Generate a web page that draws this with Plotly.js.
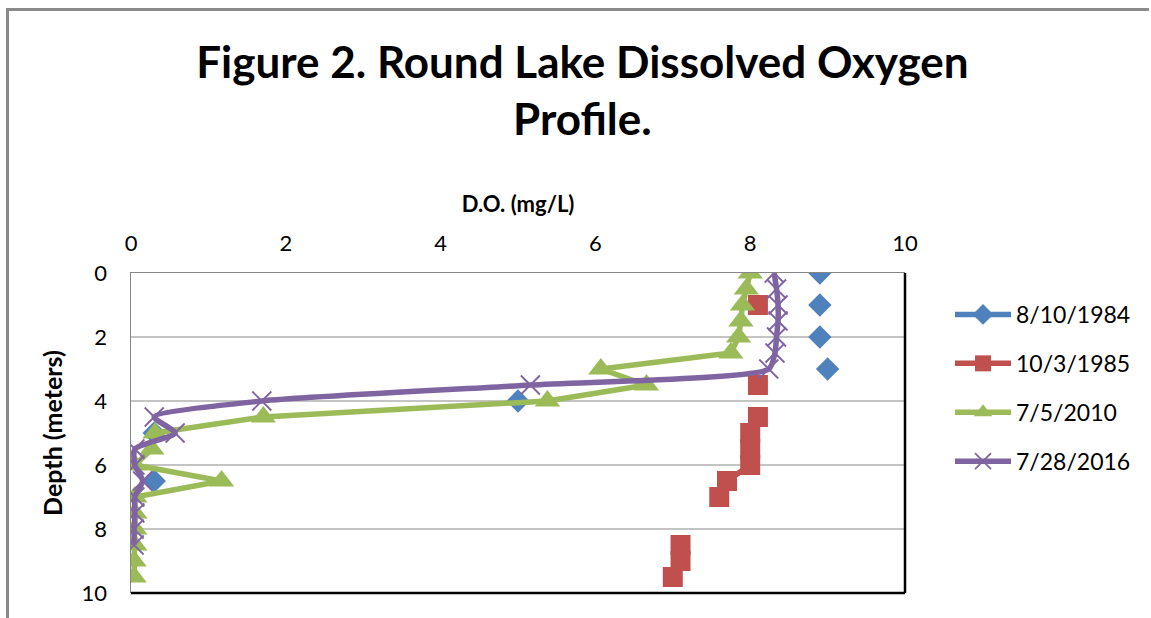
<!DOCTYPE html>
<html>
<head>
<meta charset="utf-8">
<script src="https://cdn.plot.ly/plotly-3.0.1.min.js"></script>
<style>
  html, body { margin: 0; padding: 0; background: #fff; overflow: hidden; }
  #wrap { position: relative; width: 1151px; height: 618px; overflow: hidden; }
  #chart { position: absolute; left: 0; top: 0; width: 1151px; height: 618px; }
  #frameTop { position: absolute; left: 6px; top: 8px; width: 1143px; height: 3px; background: #8a8a8a; pointer-events: none; }
  #frameLeft { position: absolute; left: 6px; top: 8px; width: 3px; height: 610px; background: #8a8a8a; pointer-events: none; }
</style>
</head>
<body>
<div id="wrap">
  <div id="chart"></div>
  <div id="frameTop"></div>
  <div id="frameLeft"></div>
</div>
<script>
// Depth (meters)
const depths = [0, 0.5, 1, 1.5, 2, 2.5, 3, 3.5, 4, 4.5, 5, 5.5, 6, 6.5, 7, 7.5, 8, 8.5, 9, 9.5];
// D.O. (mg/L) per series, null where not measured
const do1984 = [8.9, null, 8.9, null, 8.9, null, 9.0, null, 5.0, null, 0.3, null, null, 0.3, null, null, null, null, null, null];
const do1985 = [null, null, 8.1, null, null, null, null, 8.1, null, 8.1, 8.0, 8.0, 8.0, 7.7, 7.6, null, null, 7.1, 7.1, 7.0];
const do2010 = [8.0, 7.95, 7.9, 7.88, 7.85, 7.75, 6.07, 6.66, 5.38, 1.71, 0.31, 0.27, 0.05, 1.17, 0.05, 0.05, 0.05, 0.05, 0.04, 0.04];
const do2016 = [8.31, 8.34, 8.36, 8.36, 8.34, 8.32, 8.24, 5.16, 1.69, 0.3, 0.57, 0.05, 0.05, 0.15, 0.05, 0.05, 0.04, 0.04, null, null];
const seriesNames = ['8/10/1984', '10/3/1985', '7/5/2010', '7/28/2016'];
const xTicks = [0, 2, 4, 6, 8, 10];
const yTicks = [0, 2, 4, 6, 8, 10];

const FONT = 'Lato, "Open Sans", sans-serif';
const colors = ['#4F81BD', '#C0504D', '#9BBB59', '#8064A2'];

const traces = [
  { x: do1984, y: depths, name: seriesNames[0], mode: 'lines+markers', connectgaps: false,
    line: { color: colors[0], width: 5.5 },
    marker: { symbol: 'diamond', size: 18, color: colors[0] }, legendgroup: 'a' },
  { x: do1985, y: depths, name: seriesNames[1], mode: 'lines+markers', connectgaps: false,
    line: { color: colors[1], width: 5.5 },
    marker: { symbol: 'square', size: 20, color: colors[1] }, legendgroup: 'b' },
  { x: do2010, y: depths, name: seriesNames[2], mode: 'lines+markers', connectgaps: false,
    line: { color: colors[2], width: 5.5 },
    marker: { symbol: 'triangle-up', size: 22, color: colors[2] }, legendgroup: 'c' },
  { x: do2016, y: depths, name: seriesNames[3], mode: 'lines+markers', connectgaps: false,
    line: { color: colors[3], width: 5.5, shape: 'spline', smoothing: 0.6 },
    marker: { symbol: 'x-thin-open', size: 19, color: colors[3], line: { color: colors[3], width: 1.8 } }, legendgroup: 'd' }
];

const layout = {
  width: 1151, height: 618,
  margin: { l: 131, r: 246, t: 273, b: 25 },
  paper_bgcolor: '#ffffff', plot_bgcolor: '#ffffff',
  font: { family: FONT, color: '#000', size: 22 },
  title: {
    text: '<b>Figure 2. Round Lake Dissolved Oxygen<br>Profile.</b>',
    font: { family: FONT, size: 44, color: '#000' },
    xref: 'container', x: 0.506, xanchor: 'center',
    yref: 'container', y: 1 - 78 / 618, yanchor: 'middle'
  },
  xaxis: {
    side: 'top', range: [0, 10], tickvals: xTicks, ticktext: xTicks.map(String),
    showgrid: false, zeroline: false, showline: true, linecolor: '#868686', linewidth: 1.5,
    ticks: '', ticklabelstandoff: 12,
    tickfont: { family: FONT, size: 22, color: '#000' },
    title: { text: '<b>D.O. (mg/L)</b>', font: { family: FONT, size: 22, color: '#000' }, standoff: 10 }
  },
  yaxis: {
    range: [10, 0], tickvals: yTicks, ticktext: yTicks.map(String),
    showgrid: true, gridcolor: '#c4c4c4', gridwidth: 1.5,
    zeroline: false, showline: true, linecolor: '#868686', linewidth: 1.5,
    ticks: '', ticklabelstandoff: 18,
    tickfont: { family: FONT, size: 22, color: '#000' },
    title: { text: '<b>Depth (meters)</b>', font: { family: FONT, size: 25, color: '#000' }, standoff: 12 }
  },
  showlegend: true,
  legend: {
    xref: 'container', x: 950 / 1151, xanchor: 'left',
    yref: 'container', y: 1 - 293 / 618, yanchor: 'top',
    font: { family: FONT, size: 23, color: '#000' },
    tracegroupgap: 16, itemwidth: 56, bgcolor: 'rgba(0,0,0,0)'
  },
  shapes: [
    { type: 'line', xref: 'paper', yref: 'paper', x0: 1, x1: 1, y0: 0, y1: 1, line: { color: '#000', width: 2.5 } },
    { type: 'line', xref: 'paper', yref: 'paper', x0: 0, x1: 1, y0: 0, y1: 0, line: { color: '#000', width: 2.5 } }
  ]
};

Plotly.newPlot('chart', traces, layout, { staticPlot: true, displayModeBar: false });
</script>
</body>
</html>
